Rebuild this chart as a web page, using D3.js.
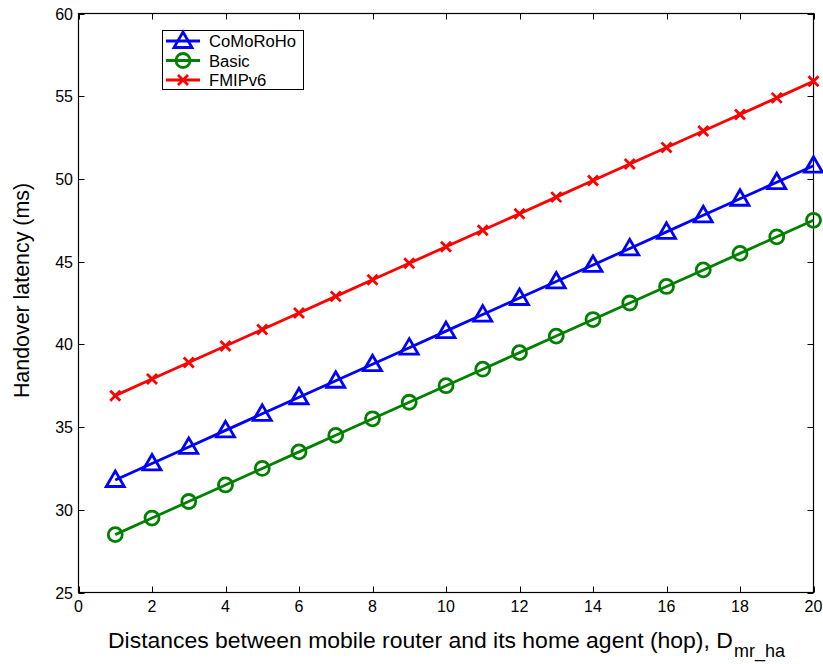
<!DOCTYPE html>
<html>
<head>
<meta charset="utf-8">
<script src="https://cdn.jsdelivr.net/npm/d3@7"></script>
<style>
  body { margin: 0; background: #fff; }
  svg { display: block; font-family: "Liberation Sans", Arial, Helvetica, sans-serif; }
</style>
</head>
<body>
<svg id="chart" width="823" height="664"></svg>
<script>
// Hop distance between mobile router and home agent
const hops = [1, 2, 3, 4, 5, 6, 7, 8, 9, 10, 11, 12, 13, 14, 15, 16, 17, 18, 19, 20];
// Handover latency (ms) per scheme
const comoroho = [31.8, 32.8, 33.8, 34.8, 35.8, 36.8, 37.8, 38.8, 39.8, 40.8, 41.8, 42.8, 43.8, 44.8, 45.8, 46.8, 47.8, 48.8, 49.8, 50.8];
const basic = [28.5, 29.5, 30.5, 31.5, 32.5, 33.5, 34.5, 35.5, 36.5, 37.5, 38.5, 39.5, 40.5, 41.5, 42.5, 43.5, 44.5, 45.5, 46.5, 47.5];
const fmipv6 = [36.9, 37.9, 38.9, 39.9, 40.9, 41.9, 42.9, 43.9, 44.9, 45.9, 46.9, 47.9, 48.9, 49.9, 50.9, 51.9, 52.9, 53.9, 54.9, 55.9];
const xTicks = [0, 2, 4, 6, 8, 10, 12, 14, 16, 18, 20];
const yTicks = [25, 30, 35, 40, 45, 50, 55, 60];

const series = [
  { name: "CoMoRoHo", values: comoroho, color: "#0000ff", marker: "triangle" },
  { name: "Basic", values: basic, color: "#008000", marker: "circle" },
  { name: "FMIPv6", values: fmipv6, color: "#ff0000", marker: "cross" }
];

const svg = d3.select("#chart");
const plotL = 78.5, plotR = 813.5, plotT = 13.5, plotB = 592.5;
const lw = 2.8;

const x = d3.scaleLinear().domain([0, 20]).range([plotL, plotR]);
const y = d3.scaleLinear().domain([25, 60]).range([plotB, plotT]);

// Resize a text element's font so that it spans the given width
function fitWidth(sel, width) {
  const fs = parseFloat(sel.attr("font-size"));
  const w = sel.node().getComputedTextLength();
  if (w > 0) sel.attr("font-size", (fs * width / w).toFixed(2));
  return sel;
}

// Box and inward ticks on all four sides
const g = svg.append("g");
g.append("rect")
  .attr("x", plotL).attr("y", plotT)
  .attr("width", plotR - plotL).attr("height", plotB - plotT)
  .attr("fill", "none").attr("stroke", "#000").attr("stroke-width", 1.2);

const tickLen = 6;
g.selectAll(".xt").data(xTicks).join("g").each(function(d) {
  const s = d3.select(this);
  const px = Math.round(x(d)) + 0.5;
  s.append("line").attr("x1", px).attr("x2", px).attr("y1", plotB).attr("y2", plotB - tickLen).attr("stroke", "#000");
  s.append("line").attr("x1", px).attr("x2", px).attr("y1", plotT).attr("y2", plotT + tickLen).attr("stroke", "#000");
  s.append("text").attr("x", x(d)).attr("y", plotB + 19).attr("text-anchor", "middle")
    .attr("font-size", 16).text(d);
});
g.selectAll(".yt").data(yTicks).join("g").each(function(d) {
  const s = d3.select(this);
  const py = Math.round(y(d)) + 0.5;
  s.append("line").attr("x1", plotL).attr("x2", plotL + tickLen).attr("y1", py).attr("y2", py).attr("stroke", "#000");
  s.append("line").attr("x1", plotR).attr("x2", plotR - tickLen).attr("y1", py).attr("y2", py).attr("stroke", "#000");
  s.append("text").attr("x", plotL - 5.5).attr("y", y(d) + 6).attr("text-anchor", "end")
    .attr("font-size", 16).text(d);
});

// Marker drawing helper
function drawMarker(sel, type, color, cx, cy) {
  if (type === "triangle") {
    const r = 9;
    sel.append("path")
      .attr("d", `M${cx},${cy - r} L${cx + r},${cy + r * 0.72} L${cx - r},${cy + r * 0.72} Z`)
      .attr("fill", "none").attr("stroke", color).attr("stroke-width", lw);
  } else if (type === "circle") {
    sel.append("circle").attr("cx", cx).attr("cy", cy).attr("r", 7)
      .attr("fill", "none").attr("stroke", color).attr("stroke-width", lw);
  } else {
    const r = 5;
    sel.append("path")
      .attr("d", `M${cx - r},${cy - r} L${cx + r},${cy + r} M${cx - r},${cy + r} L${cx + r},${cy - r}`)
      .attr("stroke", color).attr("stroke-width", lw);
  }
}

const line = d3.line().x((d, i) => x(hops[i])).y(d => y(d));
series.forEach(s => {
  const sg = svg.append("g");
  sg.append("path").datum(s.values).attr("d", line)
    .attr("fill", "none").attr("stroke", s.color).attr("stroke-width", lw);
  s.values.forEach((v, i) => drawMarker(sg, s.marker, s.color, x(hops[i]), y(v)));
});

// Legend
const lg = svg.append("g");
lg.append("rect").attr("x", 162.5).attr("y", 30.5).attr("width", 141).attr("height", 59)
  .attr("fill", "#fff").attr("stroke", "#000").attr("stroke-width", 1);
const legendText = lg.append("g");
series.forEach((s, i) => {
  const ly = 41 + i * 19.5;
  lg.append("line").attr("x1", 166).attr("x2", 200).attr("y1", ly).attr("y2", ly)
    .attr("stroke", s.color).attr("stroke-width", lw);
  drawMarker(lg, s.marker, s.color, 183, ly);
  legendText.append("text").attr("x", 209).attr("y", ly + 6).attr("font-size", 16.5).text(s.name);
});
// all legend labels share the size that makes the longest one span 87px
{
  const first = legendText.select("text");
  const w = first.node().getComputedTextLength();
  if (w > 0) legendText.selectAll("text").attr("font-size", (16.5 * 87 / w).toFixed(2));
}

// Axis titles
svg.append("text")
  .attr("transform", `translate(28.5,290.5) rotate(-90)`)
  .attr("text-anchor", "middle").attr("font-size", 21.4)
  .text("Handover latency (ms)");

const xTitle = svg.append("text").attr("x", 108).attr("y", 648).attr("font-size", 22)
  .text("Distances between mobile router and its home agent (hop), D");
fitWidth(xTitle, 625);
const xSub = svg.append("text").attr("x", 734).attr("y", 657).attr("font-size", 16)
  .text("mr_ha");
fitWidth(xSub, 51);
</script>
</body>
</html>
